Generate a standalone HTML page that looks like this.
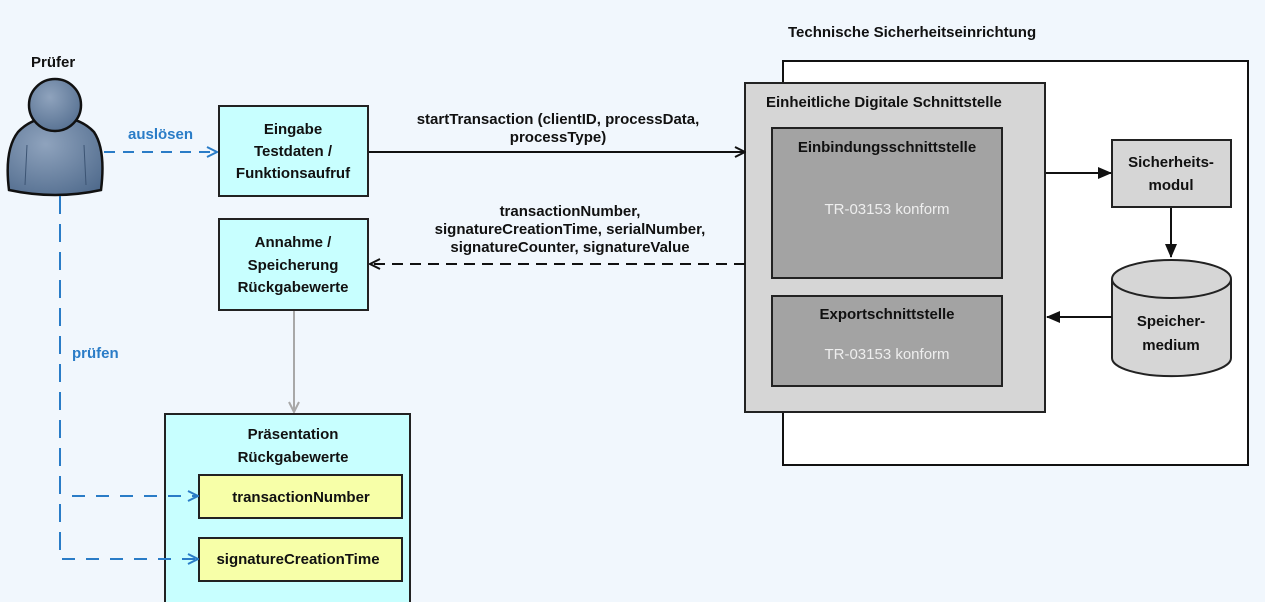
<!DOCTYPE html>
<html><head><meta charset="utf-8"><style>
html,body{margin:0;padding:0;background:#f1f7fd;}
svg{display:block;font-family:"Liberation Sans",sans-serif;}
.b{font-weight:bold;font-size:15px;fill:#111;}
</style></head><body>
<svg width="1265" height="602" viewBox="0 0 1265 602">
<defs>
<marker id="open" markerWidth="12" markerHeight="12" refX="11" refY="6" orient="auto" markerUnits="userSpaceOnUse"><path d="M1,1 L11,6 L1,11" fill="none" stroke="#111" stroke-width="2"/></marker>
<marker id="openB" markerWidth="12" markerHeight="12" refX="11" refY="6" orient="auto" markerUnits="userSpaceOnUse"><path d="M1,1 L11,6 L1,11" fill="none" stroke="#2a7cc7" stroke-width="2"/></marker>
<marker id="openG" markerWidth="12" markerHeight="12" refX="11" refY="6" orient="auto" markerUnits="userSpaceOnUse"><path d="M1,1 L11,6 L1,11" fill="none" stroke="#a8a8a8" stroke-width="2"/></marker>
<marker id="fill" markerWidth="14" markerHeight="12" refX="13" refY="6" orient="auto" markerUnits="userSpaceOnUse"><path d="M0,0 L14,6 L0,12 Z" fill="#111"/></marker>
<radialGradient id="pg" cx="0.4" cy="0.35" r="0.8"><stop offset="0" stop-color="#8fa3bd"/><stop offset="1" stop-color="#4f6a8c"/></radialGradient>
</defs>

<text x="31" y="67" class="b" font-size="16">Prüfer</text>
<text x="788" y="37" class="b" font-size="15.5">Technische Sicherheitseinrichtung</text>

<!-- person -->
<path d="M9,190 Q4,150 18,132 Q32,117 55,117 Q80,117 94,132 Q106,150 101,190 Q55,200 9,190 Z" fill="url(#pg)" stroke="#111" stroke-width="2.5"/>
<circle cx="55" cy="105" r="26" fill="url(#pg)" stroke="#111" stroke-width="2.5"/>
<path d="M27,145 L25,185 M84,145 L86,185" stroke="#3c5473" stroke-width="1"/>

<rect x="783" y="61" width="465" height="404" fill="#fff" stroke="#111" stroke-width="2"/>
<rect x="745" y="83" width="300" height="329" fill="#d6d6d6" stroke="#222" stroke-width="2"/>
<text x="766" y="107" class="b">Einheitliche Digitale Schnittstelle</text>
<rect x="772" y="128" width="230" height="150" fill="#a3a3a3" stroke="#222" stroke-width="2"/>
<text x="887" y="152" class="b" text-anchor="middle">Einbindungsschnittstelle</text>
<text x="887" y="214" font-size="15" fill="#eee" text-anchor="middle">TR-03153 konform</text>
<rect x="772" y="296" width="230" height="90" fill="#a3a3a3" stroke="#222" stroke-width="2"/>
<text x="887" y="319" class="b" text-anchor="middle">Exportschnittstelle</text>
<text x="887" y="359" font-size="15" fill="#eee" text-anchor="middle">TR-03153 konform</text>

<rect x="1112" y="140" width="119" height="67" fill="#d6d6d6" stroke="#222" stroke-width="2"/>
<text x="1171" y="167" class="b" text-anchor="middle">Sicherheits-</text>
<text x="1171" y="190" class="b" text-anchor="middle">modul</text>
<path d="M1112,279 L1112,358 A59,18 0 0 0 1231,358 L1231,279" fill="#d6d6d6" stroke="#222" stroke-width="2"/>
<ellipse cx="1171.5" cy="279" rx="59.5" ry="19" fill="#d6d6d6" stroke="#222" stroke-width="2"/>
<text x="1171" y="326" class="b" text-anchor="middle">Speicher-</text>
<text x="1171" y="350" class="b" text-anchor="middle">medium</text>

<line x1="1046" y1="173" x2="1111" y2="173" stroke="#111" stroke-width="2" marker-end="url(#fill)"/>
<line x1="1171" y1="208" x2="1171" y2="257" stroke="#111" stroke-width="2" marker-end="url(#fill)"/>
<line x1="1112" y1="317" x2="1047" y2="317" stroke="#111" stroke-width="2" marker-end="url(#fill)"/>

<rect x="219" y="106" width="149" height="90" fill="#c8ffff" stroke="#222" stroke-width="2"/>
<text x="293" y="134" class="b" text-anchor="middle">Eingabe</text>
<text x="293" y="156" class="b" text-anchor="middle">Testdaten /</text>
<text x="293" y="178" class="b" text-anchor="middle">Funktionsaufruf</text>
<rect x="219" y="219" width="149" height="91" fill="#c8ffff" stroke="#222" stroke-width="2"/>
<text x="293" y="247" class="b" text-anchor="middle">Annahme /</text>
<text x="293" y="270" class="b" text-anchor="middle">Speicherung</text>
<text x="293" y="292" class="b" text-anchor="middle">Rückgabewerte</text>

<rect x="165" y="414" width="245" height="200" fill="#c8ffff" stroke="#222" stroke-width="2"/>
<text x="293" y="439" class="b" text-anchor="middle">Präsentation</text>
<text x="293" y="462" class="b" text-anchor="middle">Rückgabewerte</text>
<rect x="199" y="475" width="203" height="43" fill="#f7ffa8" stroke="#222" stroke-width="2"/>
<text x="301" y="502" class="b" text-anchor="middle">transactionNumber</text>
<rect x="199" y="538" width="203" height="43" fill="#f7ffa8" stroke="#222" stroke-width="2"/>
<text x="298" y="564" class="b" text-anchor="middle">signatureCreationTime</text>

<line x1="369" y1="152" x2="745" y2="152" stroke="#111" stroke-width="2" marker-end="url(#open)"/>
<text x="558" y="124" class="b" text-anchor="middle">startTransaction (clientID, processData,</text>
<text x="558" y="142" class="b" text-anchor="middle">processType)</text>
<line x1="745" y1="264" x2="370" y2="264" stroke="#111" stroke-width="2" stroke-dasharray="11,7" marker-end="url(#open)"/>
<text x="570" y="216" class="b" text-anchor="middle">transactionNumber,</text>
<text x="570" y="234" class="b" text-anchor="middle">signatureCreationTime, serialNumber,</text>
<text x="570" y="252" class="b" text-anchor="middle">signatureCounter, signatureValue</text>

<line x1="294" y1="311" x2="294" y2="412" stroke="#a8a8a8" stroke-width="2" marker-end="url(#openG)"/>

<line x1="104" y1="152" x2="217" y2="152" stroke="#2a7cc7" stroke-width="2" stroke-dasharray="11,8" marker-end="url(#openB)"/>
<text x="128" y="139" font-size="15" font-weight="bold" fill="#2a7cc7">auslösen</text>
<path d="M60,196 L60,559" fill="none" stroke="#2a7cc7" stroke-width="2" stroke-dasharray="18,10"/>
<line x1="72" y1="496" x2="198" y2="496" stroke="#2a7cc7" stroke-width="2" stroke-dasharray="13,11" marker-end="url(#openB)"/>
<line x1="62" y1="559" x2="198" y2="559" stroke="#2a7cc7" stroke-width="2" stroke-dasharray="13,11" marker-end="url(#openB)"/>
<text x="72" y="358" font-size="15" font-weight="bold" fill="#2a7cc7">prüfen</text>
</svg>
</body></html>
